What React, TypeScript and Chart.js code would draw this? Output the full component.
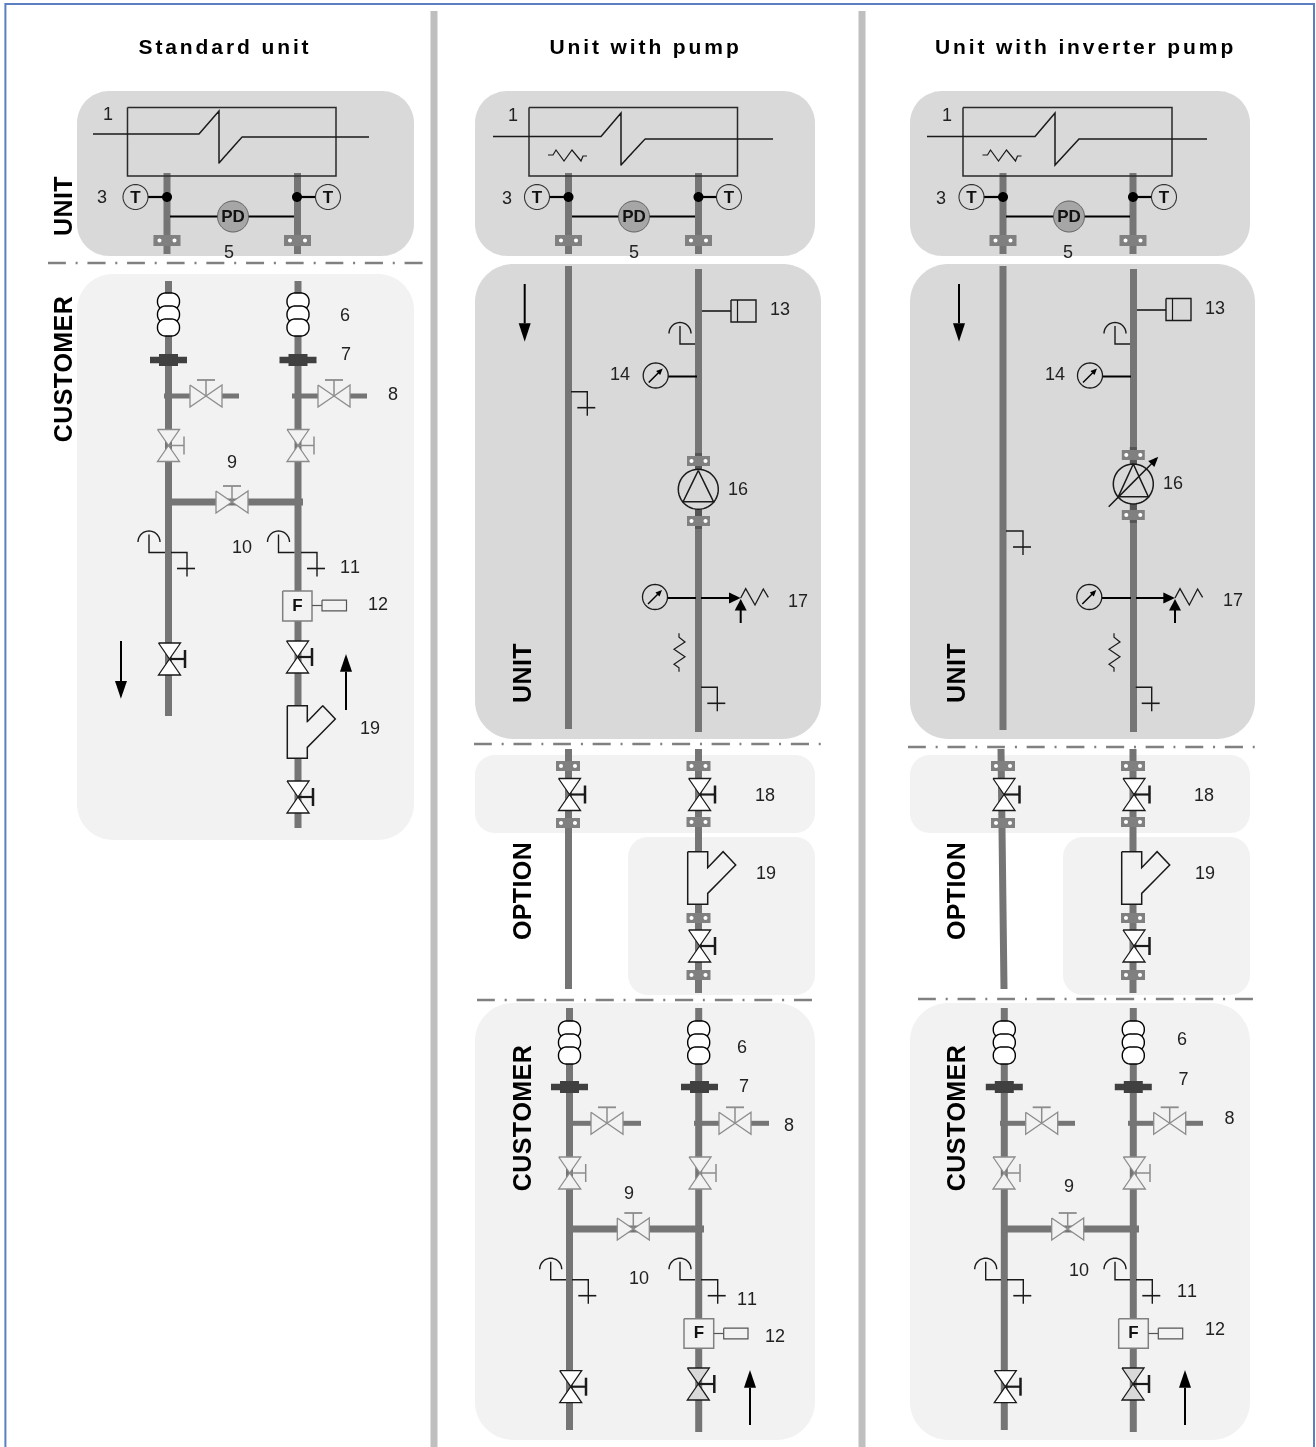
import React, { useEffect, useRef } from "react";
import { Chart, registerables } from "chart.js";

Chart.register(...registerables);

const W = 1316;
const H = 1447;
const FONT = '"Liberation Sans", Arial, sans-serif';
const PIPE = "#757575";
const DARK = "#555555";
const DP = "#D9D9D9";
const LP = "#F2F2F2";
const INK = "#1a1a1a";
const GRAYV = "#8C8C8C";

type P = [number, number];

// [x0, y0, x1, y1, radius, fill]
const panels: [number, number, number, number, number, string][] = [
  [77, 91, 414, 256, 32, DP],
  [77, 274, 414, 840, 36, LP],
  [475, 91, 815, 256, 32, DP],
  [475, 264, 821, 739, 38, DP],
  [475, 755, 815, 833, 20, LP],
  [628, 837, 815, 995, 20, LP],
  [475, 1003, 815, 1440, 38, LP],
  [910, 91, 1250, 256, 32, DP],
  [910, 264, 1255, 739, 38, DP],
  [910, 755, 1250, 833, 20, LP],
  [1063, 837, 1250, 995, 20, LP],
  [910, 1003, 1250, 1440, 38, LP],
];

// dash-dot separators [x0, x1, y]
const separators: [number, number, number][] = [
  [48, 424, 263],
  [474, 822, 744],
  [477, 812, 1000],
  [908, 1256, 747],
  [918, 1253, 999],
];

// vertical grey column rules
const columnRules = [434, 862];

// pipes [x0, y0, x1, y1, width]
const pipes: [number, number, number, number, number][] = [
  [167, 173, 167, 254, 7], [297.5, 173, 297.5, 254, 7],
  [168.5, 281, 168.5, 716, 7], [298, 281, 298, 828, 7],
  [164, 396, 190, 396, 5], [222, 396, 239, 396, 5], [292, 396, 318, 396, 5], [350, 396, 367, 396, 5],
  [168, 502, 303, 502, 7],
  [568.5, 173, 568.5, 254, 7], [698.5, 173, 698.5, 254, 7],
  [568.5, 266, 568.5, 729, 7], [698.5, 269, 698.5, 732, 7],
  [568.5, 749, 568.5, 989, 7], [698.5, 749, 698.5, 993, 7],
  [569.5, 1008, 569.5, 1430, 7], [698.7, 1008, 698.7, 1432, 7],
  [572, 1123.3, 591, 1123.3, 5], [623, 1123.3, 641, 1123.3, 5], [694, 1123.3, 719, 1123.3, 5], [751, 1123.3, 769, 1123.3, 5],
  [569, 1229, 704, 1229, 7],
  [1003, 173, 1003, 254, 7], [1133, 173, 1133, 254, 7],
  [1003, 266, 1003, 730, 7], [1133.5, 269, 1133.5, 732, 7],
  [1001, 749, 1004, 989, 7], [1133, 749, 1133, 993, 7],
  [1004.3, 1008, 1004.3, 1430, 7], [1133.3, 1008, 1133.3, 1432, 7],
  [1000, 1123.3, 1025.7, 1123.3, 5], [1057.7, 1123.3, 1075, 1123.3, 5], [1128, 1123.3, 1153.7, 1123.3, 5], [1185.7, 1123.3, 1203, 1123.3, 5],
  [1004, 1229, 1139, 1229, 7],
];
// darker pipe stubs around the pump flanges
const darkStubs: [number, number, number, number, number][] = [
  [698.5, 453, 698.5, 470, 7], [698.5, 510, 698.5, 529, 7],
  [1133.3, 447, 1133.3, 464, 7], [1133.3, 504, 1133.3, 523, 7],
];

// heat exchanger: box [x0,y0,x1,y1]
const exchangerBoxes: [number, number, number, number][] = [
  [127.5, 107.5, 336, 176],
  [529, 107.5, 737.5, 176],
  [963, 107.5, 1172, 176],
];
const exchangerLines: P[][] = [
  [[93, 134], [199, 134], [219, 111], [219, 163], [242, 137], [369, 137]],
  [[493, 136.5], [601, 136.5], [621, 113], [621, 165], [645, 139], [773, 139]],
  [[927, 136.5], [1035, 136.5], [1055, 113], [1055, 165], [1079, 139], [1207, 139]],
];
// heater squiggles, origin only
const heaterMarks: P[] = [[548, 155], [982.5, 155]];
const heaterShape: P[] = [[0, 0], [5, 0], [8, -5], [16, 6], [24, -5], [33, 6], [35, 1], [39, 1]];

// temperature sensors [[cx, cy], [pipeX, y]]
const tempSensors: P[][] = [
  [[135.5, 197], [167, 197]], [[328, 197], [297, 197]],
  [[537, 197], [568.5, 197]], [[729, 197], [698.5, 197]],
  [[971.5, 197], [1003, 197]], [[1164, 197], [1133, 197]],
];
// pressure differential [cx, cy, x0, x1]
const pdSensors: [number, number, number, number][] = [
  [233, 216.5, 170, 294],
  [634, 216.5, 572, 695],
  [1069, 216.5, 1006, 1130],
];
// flanges [cx, cy, width, height]
const flanges: [number, number, number, number][] = [
  [167, 240.5, 27, 11], [297.5, 240.5, 27, 11],
  [568.5, 240.5, 27, 11], [698.5, 240.5, 27, 11],
  [1003, 240.5, 27, 11], [1133, 240.5, 27, 11],
  [698.5, 461, 23, 10], [698.5, 521, 23, 10],
  [1133.3, 455, 23, 10], [1133.3, 515, 23, 10],
  [568, 766, 24, 10], [698.5, 766, 24, 10], [568, 823, 24, 10], [698.5, 822, 24, 10], [698.5, 918, 24, 10], [698.5, 975, 24, 10],
  [1003, 766, 24, 10], [1133, 766, 24, 10], [1003, 823, 24, 10], [1133, 822, 24, 10], [1133, 918, 24, 10], [1133, 975, 24, 10],
];
// bellows [cx, top]
const bellows: P[] = [
  [168.5, 293], [298, 293], [569.5, 1021], [698.7, 1021], [1004.3, 1021], [1133.3, 1021],
];
// isolators [cx, cy]
const unions: P[] = [
  [168.5, 360], [298, 360], [569.5, 1087], [699.5, 1087], [1004.3, 1087], [1133.3, 1087],
];
// horizontal grey valves [cx, cy]
const hValves: P[] = [
  [206, 396], [334, 396], [232, 502],
  [607, 1123.3], [735, 1123.3], [633.3, 1229],
  [1041.7, 1123.3], [1169.7, 1123.3], [1067.7, 1229],
];
// vertical valves [cx, cy, barX, fill, stroke]
const vValves: [number, number, number, string, string][] = [
  [168.5, 445.5, 184, LP, GRAYV], [298, 445.5, 314, LP, GRAYV],
  [169.5, 659, 185, "#fff", INK], [297.5, 657, 312, "#fff", INK], [298, 797, 313, "#fff", INK],
  [569.5, 794.5, 585, "#fff", INK], [699.6, 794.5, 715, "#fff", INK], [699.6, 946, 715, "#fff", INK],
  [569.7, 1173, 585.7, LP, GRAYV], [700, 1173, 716, LP, GRAYV],
  [570.7, 1386.7, 586, "#fff", INK], [698.3, 1384, 714.3, DP, INK],
  [1004, 794.5, 1019.5, "#fff", INK], [1134, 794.5, 1149.5, "#fff", INK], [1134, 946, 1149.5, "#fff", INK],
  [1004, 1173, 1020, LP, GRAYV], [1134.3, 1173, 1150, LP, GRAYV],
  [1005.3, 1386.7, 1020.5, "#fff", INK], [1133, 1384, 1149, DP, INK],
];
// tundish taps [arcCx, lineY, pipeX]
const taps: [number, number, number][] = [
  [149, 552.5, 165], [278.5, 552.5, 294.5],
  [680, 344, 695],
  [550.7, 1279.7, 566], [680, 1279.7, 695],
  [1115, 344, 1130],
  [985.7, 1279.7, 1001], [1115, 1279.7, 1130],
];
// drains [xStart, xCorner, y]
const drains: [number, number, number][] = [
  [171, 187, 552.5], [301, 317, 552.5],
  [571, 587.3, 391.7], [701, 717.3, 687.3],
  [572, 588.3, 1279.7], [701, 717.7, 1279.7],
  [1006, 1023, 531], [1135.7, 1151.7, 687.3],
  [1007, 1023.3, 1279.7], [1136, 1152.3, 1279.7],
];
// flow switch [x0, y0, x1, y1, sensorX0, sensorX1, sensorY]
const flowBoxes: [number, number, number, number, number, number, number][] = [
  [282.7, 591, 312, 621, 322, 346.5, 605.5],
  [684, 1318.7, 713.7, 1348.3, 723.7, 748, 1333.5],
  [1118.7, 1318.7, 1148.3, 1348.3, 1158.3, 1182.7, 1333.5],
];
// strainer origins (top-left corner)
const strainers: P[] = [[287.3, 705.7], [687.7, 851.7], [1121.7, 851.7]];
const strainerShape: P[] = [[0, 0], [20, 0], [20, 16], [35.4, 0], [48, 13.3], [20, 41.7], [20, 52.5], [0, 52.5]];
// arrows [x, tailY, baseY, tipY]
const arrows: [number, number, number, number][] = [
  [121, 641, 681, 698.7], [346, 710, 671.7, 654],
  [524.7, 284, 323.3, 341.7], [959, 284, 323.3, 341.7],
  [750, 1425, 1387.7, 1370], [1185, 1425, 1387.7, 1370],
];
// expansion tank [pipeX, lineY, x0, x1, y0, y1]
const tanks: [number, number, number, number, number, number][] = [
  [702, 311, 731, 756, 300, 322],
  [1137, 310, 1166, 1191, 298.5, 320.5],
];
// pressure gauges [cx, cy, lineTo, lineY]
const gauges: [number, number, number, number][] = [
  [655.7, 375.5, 697, 376.5], [1090, 375.5, 1131, 376.5],
  [655, 597, 696, 598], [1089.3, 597, 1131, 598],
];
// relief valves [tipX, y]
const reliefs: P[] = [[740.7, 598], [1175, 598]];
const reliefStarts = [701, 1136];
const zigShape: P[] = [[0, 0], [5, -9.3], [14.3, 7], [22.6, -9], [27.6, -0.7]];
// vibration marks
const wiggles: P[] = [[679, 633.3], [1114, 633.3]];
const wiggleShape: P[] = [[0, 0], [0, 4], [6, 8.7], [-5, 16], [6, 23.4], [-5, 31], [0, 34.4], [0, 38.4]];
// pumps [cx, cy, triTop, triBase, halfBase, withArrow]
const pumps: [number, number, number, number, number, number][] = [
  [698.3, 489.3, 470.5, 501.7, 15.2, 0],
  [1133.3, 484, 464, 496.7, 15, 1],
];

// text: [label, x, y]
const numberLabels: [string, number, number][] = [
  ["1", 108, 114], ["3", 102, 197], ["5", 229, 252], ["6", 345, 315], ["7", 346, 354], ["8", 393, 394],
  ["9", 232, 462], ["10", 242, 547], ["11", 350, 567], ["12", 378, 604], ["19", 370, 728],
  ["1", 513, 115], ["3", 507, 198], ["5", 634, 252], ["13", 780, 309], ["14", 620, 374], ["16", 738, 489],
  ["17", 798, 601], ["18", 765, 795], ["19", 766, 873], ["6", 742, 1047], ["7", 744, 1086], ["8", 789, 1125],
  ["9", 629, 1193], ["10", 639, 1278], ["11", 747, 1299], ["12", 775, 1336],
  ["1", 947, 115], ["3", 941, 198], ["5", 1068, 252], ["13", 1215, 308], ["14", 1055, 374], ["16", 1173, 483],
  ["17", 1233, 600], ["18", 1204, 795], ["19", 1205, 873], ["6", 1182, 1039.5], ["7", 1183.5, 1079], ["8", 1229.5, 1118],
  ["9", 1069, 1186], ["10", 1079, 1270], ["11", 1187, 1291.5], ["12", 1215, 1329],
];
const titles: [string, number, number][] = [
  ["Standard unit", 225, 47],
  ["Unit with pump", 645.5, 47.5],
  ["Unit with inverter pump", 1085.5, 47.5],
];
const sideLabels: [string, number, number][] = [
  ["UNIT", 63, 206], ["CUSTOMER", 63, 369],
  ["UNIT", 522, 673], ["OPTION", 522, 891], ["CUSTOMER", 522, 1118],
  ["UNIT", 956, 673], ["OPTION", 956, 891], ["CUSTOMER", 956, 1118],
];
const symbolLabels: [string, number, number][] = [
  ...tempSensors.map(([c]) => ["T", c[0], c[1]] as [string, number, number]),
  ...pdSensors.map(([x, y]) => ["PD", x, y] as [string, number, number]),
  ...flowBoxes.map(([x0, y0, x1, y1]) => ["F", (x0 + x1) / 2, (y0 + y1) / 2 - 1] as [string, number, number]),
];

function buildDatasets() {
  const out: any[] = [];
  const add = (
    pts: P[],
    stroke: string | null,
    width: number,
    fill: string | null = null,
    extra: any = {}
  ) => {
    const closed = fill !== null || extra.closed;
    const data = (closed ? [...pts, pts[0]] : pts).map(([x, y]) => ({ x, y }));
    out.push({
      data,
      showLine: true,
      pointRadius: 0,
      pointHoverRadius: 0,
      tension: 0.000001,
      borderColor: stroke ?? "rgba(0,0,0,0)",
      borderWidth: stroke ? width : 0,
      backgroundColor: fill ?? "rgba(0,0,0,0)",
      fill: fill ? "shape" : false,
      borderJoinStyle: "miter",
      borderCapStyle: "butt",
      borderDash: extra.dash ?? [],
      clip: false,
    });
  };
  const ellipse = (cx: number, cy: number, rx: number, ry: number, a0 = 0, a1 = 360, n = 48): P[] => {
    const r: P[] = [];
    for (let i = 0; i <= n; i++) {
      const a = ((a0 + ((a1 - a0) * i) / n) * Math.PI) / 180;
      r.push([cx + rx * Math.cos(a), cy + ry * Math.sin(a)]);
    }
    return r;
  };
  const rect = (x0: number, y0: number, x1: number, y1: number): P[] => [[x0, y0], [x1, y0], [x1, y1], [x0, y1]];
  const at = (o: P, s: P[]): P[] => s.map(([x, y]) => [o[0] + x, o[1] + y]);
  const round = (x0: number, y0: number, x1: number, y1: number, r: number): P[] => [
    ...ellipse(x1 - r, y0 + r, r, r, -90, 0, 16),
    ...ellipse(x1 - r, y1 - r, r, r, 0, 90, 16),
    ...ellipse(x0 + r, y1 - r, r, r, 90, 180, 16),
    ...ellipse(x0 + r, y0 + r, r, r, 180, 270, 16),
  ];

  // page frame and column rules
  add([[5.4, H], [5.4, 4], [1314, 4], [1314, H]], "#5B7FC0", 2);
  for (const x of columnRules) add([[x, 11], [x, H]], "#BFBFBF", 7);
  for (const [x0, y0, x1, y1, r, c] of panels) add(round(x0, y0, x1, y1, r), null, 0, c);
  for (const [x0, x1, y] of separators) add([[x0, y], [x1, y]], "#808080", 2.5, null, { dash: [18, 9.8, 2, 9.8] });

  for (const [x0, y0, x1, y1, w] of pipes) add([[x0, y0], [x1, y1]], PIPE, w);
  for (const [x0, y0, x1, y1, w] of darkStubs) add([[x0, y0], [x1, y1]], DARK, w);

  for (const [x0, y0, x1, y1] of exchangerBoxes) add(rect(x0, y0, x1, y1), "#2a2a2a", 1.5, null, { closed: true });
  for (const l of exchangerLines) add(l, INK, 1.5);
  for (const o of heaterMarks) add(at(o, heaterShape), INK, 1.2);

  for (const [c, p] of tempSensors) {
    add([[c[0], c[1]], [p[0], p[1]]], "#000", 2.2);
    add(ellipse(c[0], c[1], 12.5, 12.5), "#333", 1.1, DP);
    add(ellipse(p[0], p[1], 5, 5), null, 0, "#000");
  }
  for (const [x, y, x0, x1] of pdSensors) {
    add([[x0, y], [x1, y]], "#000", 2.2);
    add(ellipse(x, y, 15.5, 15.5), "#555", 1, "#A6A6A6");
  }
  for (const [x, y, w, h] of flanges) {
    add(rect(x - w / 2, y - h / 2, x + w / 2, y + h / 2), null, 0, "#808080");
    const d = w > 25 ? 7.5 : 7;
    add(ellipse(x - d, y, 2, 2, 0, 360, 16), null, 0, "#fff");
    add(ellipse(x + d, y, 2, 2, 0, 360, 16), null, 0, "#fff");
  }
  for (const [x, t] of bellows) {
    add(round(x - 11, t, x + 11, t + 17, 8), "#000", 1.4, "#fff");
    add(round(x - 11, t + 13, x + 11, t + 30, 8), "#000", 1.4, "#fff");
    add(round(x - 11, t + 26, x + 11, t + 43, 8), "#000", 1.4, "#fff");
  }
  for (const [x, y] of unions) {
    add(rect(x - 18.5, y - 3.2, x + 18.5, y + 3.2), null, 0, "#404040");
    add(rect(x - 9.5, y - 6, x + 9.5, y + 6), null, 0, "#404040");
  }
  for (const [x, y] of hValves) {
    add([[x, y], [x, y - 16]], GRAYV, 1.5);
    add([[x - 9, y - 16], [x + 9, y - 16]], GRAYV, 1.8);
    add([[x - 16, y - 11], [x + 16, y + 11], [x + 16, y - 11], [x - 16, y + 11]], GRAYV, 1.3, LP);
  }
  for (const [x, y, b, f, s] of vValves) {
    const black = s === INK;
    add([[x - 11, y - 16], [x + 11, y - 16], [x - 11, y + 16], [x + 11, y + 16]], s, 1.3, f);
    add([[x, y], [b, y]], s, black ? 2.2 : 1.5);
    add([[b, y - 9], [b, y + 9]], s, black ? 2.5 : 1.5);
  }
  for (const [ax, y, px] of taps) {
    add(ellipse(ax, y - 10.5, 11, 11, 180, 360, 24), INK, 1.4);
    add([[ax, y - 18], [ax, y], [px, y]], INK, 1.4);
  }
  for (const [x0, xc, y] of drains) {
    add([[x0, y], [xc, y], [xc, y + 24]], INK, 1.4);
    add([[xc - 10, y + 16], [xc + 8, y + 16]], INK, 1.6);
  }
  for (const [x0, y0, x1, y1, s0, s1, sy] of flowBoxes) {
    add(rect(x0, y0, x1, y1), "#808080", 1.5, LP);
    add([[x1, sy], [s0, sy]], "#555", 1.2);
    add(rect(s0, sy - 5.3, s1, sy + 5.3), "#555", 1.2, LP);
  }
  for (const o of strainers) add(at(o, strainerShape), INK, 1.5, LP);
  for (const [x, tail, base, tip] of arrows) {
    add([[x, tail], [x, base]], "#000", 2);
    add([[x - 6, base], [x + 6, base], [x, tip]], null, 0, "#000");
  }
  for (const [px, ly, x0, x1, y0, y1] of tanks) {
    add([[px, ly], [x0, ly]], INK, 1.6);
    add(rect(x0, y0, x1, y1), INK, 1.4, null, { closed: true });
    add([[x0 + 6.5, y0], [x0 + 6.5, y1]], INK, 1.2);
  }
  for (const [cx, cy, to, ly] of gauges) {
    add([[cx + 12, ly], [to, ly]], "#000", 2);
    add(ellipse(cx, cy, 12.5, 12.5), INK, 1.3, DP);
    add([[cx - 7, cy + 7], [cx + 3, cy - 3]], "#000", 1.5);
    add([[cx + 7, cy - 7], [cx + 0.5, cy - 4.5], [cx + 4.5, cy - 0.5]], null, 0, "#000");
  }
  reliefs.forEach((o, i) => {
    const [x, y] = o;
    add([[reliefStarts[i], y], [x - 10, y]], "#000", 2);
    add([[x - 11.7, y - 5.5], [x, y], [x - 11.7, y + 5.5]], null, 0, "#000");
    add([[x, y + 25], [x, y + 11]], "#000", 2);
    add([[x - 6, y + 12.5], [x, y + 1], [x + 6, y + 12.5]], null, 0, "#000");
    add(at(o, zigShape), INK, 1.3);
  });
  for (const o of wiggles) add(at(o, wiggleShape), INK, 1.2);
  for (const [cx, cy, top, base, hb, arrow] of pumps) {
    add(ellipse(cx, cy, 20, 20), INK, 1.5, DP);
    add([[cx, top], [cx + hb, base], [cx - hb, base]], INK, 1.5, null, { closed: true });
    if (arrow) {
      add([[cx - 24.6, cy + 22.7], [cx + 19, cy - 21]], INK, 1.5);
      add([[cx + 25, cy - 27.3], [cx + 15, cy - 23], [cx + 21, cy - 17]], null, 0, "#000");
    }
  }
  // painter's order: Chart.js paints the first dataset last
  return out.reverse();
}

const textPlugin = {
  id: "schematicText",
  afterDatasetsDraw(chart: any) {
    const { ctx, scales } = chart;
    const put = (list: [string, number, number][], font: string, spacing: string, dx: number, dy: number, rot = 0, color = "#000") => {
      for (const [t, x, y] of list) {
        ctx.save();
        ctx.font = font;
        ctx.fillStyle = color;
        (ctx as any).letterSpacing = spacing;
        (ctx as any).fontKerning = "none";
        ctx.textAlign = "center";
        ctx.textBaseline = "middle";
        ctx.translate(scales.x.getPixelForValue(x) + dx, scales.y.getPixelForValue(y) + dy);
        if (rot) ctx.rotate(rot);
        ctx.fillText(t, 0, 0);
        ctx.restore();
      }
    };
    put(titles, `bold 21px ${FONT}`, "2.9px", 0, 1);
    put(sideLabels, `bold 25px ${FONT}`, "0.4px", 2, 0, -Math.PI / 2);
    put(numberLabels, `18px ${FONT}`, "0px", 0, 1, 0, "#222");
    put(symbolLabels, `bold 17px ${FONT}`, "0px", 0, 1, 0, "#111");
  },
};

export default function App() {
  const ref = useRef<HTMLCanvasElement | null>(null);
  useEffect(() => {
    if (!ref.current) return;
    const chart = new Chart(ref.current, {
      type: "scatter",
      data: { datasets: buildDatasets() },
      options: {
        animation: false,
        responsive: false,
        devicePixelRatio: 1,
        layout: { padding: 0 },
        events: [],
        plugins: { legend: { display: false }, tooltip: { enabled: false } },
        scales: {
          x: { type: "linear", min: 0, max: W, display: false },
          y: { type: "linear", min: 0, max: H, reverse: true, display: false },
        },
      },
      plugins: [textPlugin],
    } as any);
    return () => chart.destroy();
  }, []);
  return (
    <canvas
      ref={ref}
      width={W}
      height={H}
      style={{ position: "absolute", left: 0, top: 0, width: W, height: H, display: "block" }}
    />
  );
}
